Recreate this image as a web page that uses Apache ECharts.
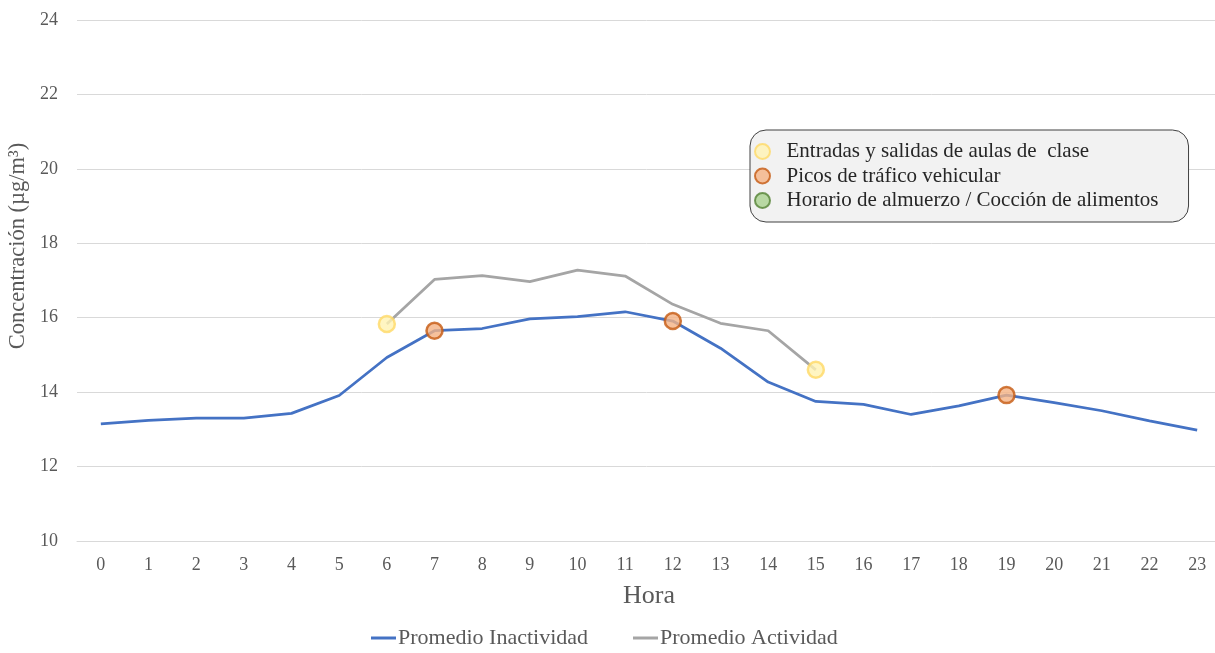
<!DOCTYPE html>
<html><head><meta charset="utf-8">
<script src="https://cdn.jsdelivr.net/npm/echarts@6/dist/echarts.min.js"></script>
<style>html,body{margin:0;padding:0;background:#fff}#c{width:1215px;height:653px}</style>
</head><body><div id="c"></div>
<script>
const horas = ['0','1','2','3','4','5','6','7','8','9','10','11','12','13','14','15','16','17','18','19','20','21','22','23'];
const inactividad = [13.15,13.24,13.30,13.30,13.43,13.91,14.93,15.65,15.71,15.97,16.03,16.16,15.91,15.18,14.27,13.75,13.67,13.40,13.63,13.92,13.72,13.50,13.23,12.98];
const actividad = [null,null,null,null,null,null,15.83,17.03,17.13,16.97,17.28,17.12,16.36,15.85,15.65,14.60,null,null,null,null,null,null,null,null];
const entradasIdx = [6,15];      // on Promedio Actividad
const picosIdx = [7,12,19];      // on Promedio Inactividad
const almuerzoIdx = [];          // none shown
const yTicks = [10,12,14,16,18,20,22,24];

const FONT = 'Liberation Serif';
const TXT = '#595959';
const chart = echarts.init(document.getElementById('c'));
chart.setOption({
  animation:false,
  textStyle:{fontFamily:FONT},
  grid:{left:77, top:20, width:1144, height:521, outerBoundsMode:'none', containLabel:false},
  xAxis:{type:'category', data:horas, boundaryGap:true,
    axisLine:{show:true,lineStyle:{color:'#D9D9D9',width:1}}, axisTick:{show:false},
    axisLabel:{color:TXT,fontSize:18,fontFamily:FONT,margin:15},
    name:'Hora', nameLocation:'middle', nameGap:42,
    nameTextStyle:{color:TXT,fontSize:26,fontFamily:FONT}},
  yAxis:{type:'value', min:yTicks[0], max:yTicks[yTicks.length-1], interval:2,
    axisLine:{show:false}, axisTick:{show:false},
    splitLine:{lineStyle:{color:'#D9D9D9',width:1}},
    axisLabel:{color:TXT,fontSize:18,fontFamily:FONT,margin:19},
    name:'Concentración (µg/m³)', nameLocation:'middle', nameGap:34,
    nameTextStyle:{color:TXT,fontSize:22.5,fontFamily:FONT,padding:[0,0,0,69]}},
  legend:[{
    data:[{name:'Promedio Inactividad'},{name:'Promedio Actividad'}],
    bottom:-1, left:366, icon:'rect', itemWidth:25, itemHeight:3, itemGap:45,
    textStyle:{color:TXT,fontSize:22,fontFamily:FONT,padding:[0,0,0,-3]}
  },{
    data:['Entradas y salidas de aulas de  clase','Picos de tráfico vehicular','Horario de almuerzo / Cocción de alimentos'],
    orient:'vertical', left:750, top:130, icon:'circle', itemWidth:30, itemHeight:15, itemGap:3.5,
    padding:[11,30,11,4], backgroundColor:'#F2F2F2', borderColor:'#404040', borderWidth:1, borderRadius:16,
    textStyle:{color:'#262626',fontSize:21,fontFamily:FONT,padding:[0,0,0,4]}
  }],
  series:[
    {name:'Promedio Inactividad', type:'line', data:inactividad, showSymbol:false, symbol:'none',
     lineStyle:{color:'#4472C4',width:2.75}, itemStyle:{color:'#4472C4'}, z:2},
    {name:'Promedio Actividad', type:'line', data:actividad, showSymbol:false, symbol:'none',
     lineStyle:{color:'#A5A5A5',width:2.75}, itemStyle:{color:'#A5A5A5'}, z:1},
    {name:'Entradas y salidas de aulas de  clase', type:'scatter', symbol:'circle', symbolSize:16, z:5,
     data:entradasIdx.map(i=>[horas[i],actividad[i]]),
     itemStyle:{color:'#FFF2B3',borderColor:'#FFD966',borderWidth:2.5}},
    {name:'Picos de tráfico vehicular', type:'scatter', symbol:'circle', symbolSize:16, z:5,
     data:picosIdx.map(i=>[horas[i],inactividad[i]]),
     itemStyle:{color:'#F4B183',borderColor:'#C55A11',borderWidth:2.5}},
    {name:'Horario de almuerzo / Cocción de alimentos', type:'scatter', symbol:'circle', symbolSize:16, z:5,
     data:almuerzoIdx.map(i=>[horas[i],inactividad[i]]),
     itemStyle:{color:'#A9D18E',borderColor:'#548235',borderWidth:2.5}}
  ]
});
</script></body></html>
